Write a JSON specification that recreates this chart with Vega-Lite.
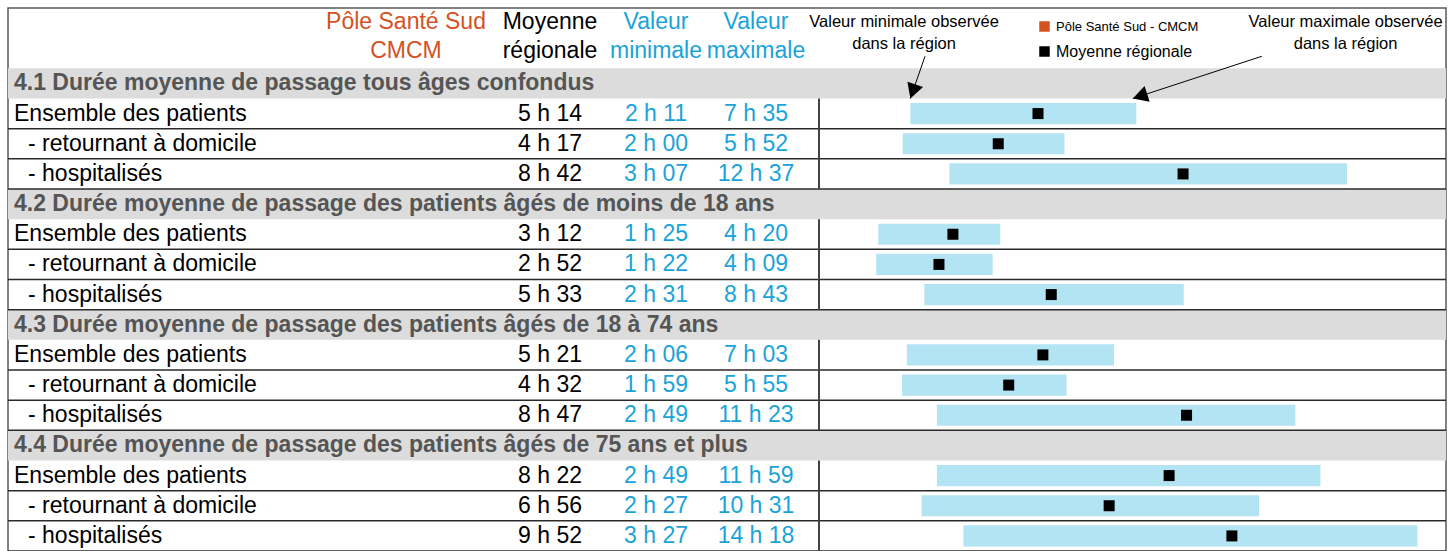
{
  "$schema": "https://vega.github.io/schema/vega-lite/v6.json",
  "width": 1438,
  "height": 546,
  "autosize": {"type": "none"},
  "padding": {"left": 8, "top": 8, "right": 10, "bottom": 0},
  "background": "white",
  "config": {
    "view": {"stroke": "#5a5a5a", "strokeWidth": 1.5},
    "axis": {"disable": true},
    "text": {"font": "Liberation Sans", "fontSize": 23}
  },
  "datasets": {
    "rows": [
      {"id": "s1", "type": "section", "level": 0, "label": "4.1 Durée moyenne de passage tous âges confondus"},
      {"id": "r1", "type": "row", "level": 0, "label": "Ensemble des patients", "moy": "5 h 14", "vmin": "2 h 11", "vmax": "7 h 35", "moyMin": 314, "minMin": 131, "maxMin": 455, "serie": "Moyenne régionale"},
      {"id": "r2", "type": "row", "level": 1, "label": "- retournant à domicile", "moy": "4 h 17", "vmin": "2 h 00", "vmax": "5 h 52", "moyMin": 257, "minMin": 120, "maxMin": 352, "serie": "Moyenne régionale"},
      {"id": "r3", "type": "row", "level": 1, "label": "- hospitalisés", "moy": "8 h 42", "vmin": "3 h 07", "vmax": "12 h 37", "moyMin": 522, "minMin": 187, "maxMin": 757, "serie": "Moyenne régionale"},
      {"id": "s2", "type": "section", "level": 0, "label": "4.2 Durée moyenne de passage des patients âgés de moins de 18 ans"},
      {"id": "r4", "type": "row", "level": 0, "label": "Ensemble des patients", "moy": "3 h 12", "vmin": "1 h 25", "vmax": "4 h 20", "moyMin": 192, "minMin": 85, "maxMin": 260, "serie": "Moyenne régionale"},
      {"id": "r5", "type": "row", "level": 1, "label": "- retournant à domicile", "moy": "2 h 52", "vmin": "1 h 22", "vmax": "4 h 09", "moyMin": 172, "minMin": 82, "maxMin": 249, "serie": "Moyenne régionale"},
      {"id": "r6", "type": "row", "level": 1, "label": "- hospitalisés", "moy": "5 h 33", "vmin": "2 h 31", "vmax": "8 h 43", "moyMin": 333, "minMin": 151, "maxMin": 523, "serie": "Moyenne régionale"},
      {"id": "s3", "type": "section", "level": 0, "label": "4.3 Durée moyenne de passage des patients âgés de 18 à 74 ans"},
      {"id": "r7", "type": "row", "level": 0, "label": "Ensemble des patients", "moy": "5 h 21", "vmin": "2 h 06", "vmax": "7 h 03", "moyMin": 321, "minMin": 126, "maxMin": 423, "serie": "Moyenne régionale"},
      {"id": "r8", "type": "row", "level": 1, "label": "- retournant à domicile", "moy": "4 h 32", "vmin": "1 h 59", "vmax": "5 h 55", "moyMin": 272, "minMin": 119, "maxMin": 355, "serie": "Moyenne régionale"},
      {"id": "r9", "type": "row", "level": 1, "label": "- hospitalisés", "moy": "8 h 47", "vmin": "2 h 49", "vmax": "11 h 23", "moyMin": 527, "minMin": 169, "maxMin": 683, "serie": "Moyenne régionale"},
      {"id": "s4", "type": "section", "level": 0, "label": "4.4 Durée moyenne de passage des patients âgés de 75 ans et plus"},
      {"id": "r10", "type": "row", "level": 0, "label": "Ensemble des patients", "moy": "8 h 22", "vmin": "2 h 49", "vmax": "11 h 59", "moyMin": 502, "minMin": 169, "maxMin": 719, "serie": "Moyenne régionale"},
      {"id": "r11", "type": "row", "level": 1, "label": "- retournant à domicile", "moy": "6 h 56", "vmin": "2 h 27", "vmax": "10 h 31", "moyMin": 416, "minMin": 147, "maxMin": 631, "serie": "Moyenne régionale"},
      {"id": "r12", "type": "row", "level": 1, "label": "- hospitalisés", "moy": "9 h 52", "vmin": "3 h 27", "vmax": "14 h 18", "moyMin": 592, "minMin": 207, "maxMin": 858, "serie": "Moyenne régionale"}
    ],
    "columns": [
      {"col": 1, "header": ["Pôle Santé Sud", "CMCM"], "serie": "Pôle Santé Sud - CMCM"},
      {"col": 2, "header": ["Moyenne", "régionale"], "serie": "Moyenne régionale"},
      {"col": 3, "header": ["Valeur", "minimale"], "serie": "Valeur observée dans la région"},
      {"col": 4, "header": ["Valeur", "maximale"], "serie": "Valeur observée dans la région"}
    ],
    "notes": [
      {"note": "min", "text": ["Valeur minimale observée", "dans la région"], "labelAt": 122, "tailAt": 152, "tipAt": 131, "tailRow": "h2", "tipRow": "r1"},
      {"note": "max", "text": ["Valeur maximale observée", "dans la région"], "labelAt": 755, "tailAt": 635, "tipAt": 450, "tailRow": "h2", "tipRow": "r1"}
    ]
  },
  "layer": [
    {
      "layer": [
        {
          "data": {"name": "rows"},
          "transform": [{"filter": "datum.type === 'section'"}],
          "mark": {"type": "rect", "color": "#dcdcdc"},
          "encoding": {
            "y": {"field": "id", "type": "nominal", "scale": {"type": "band", "domain": ["h1","h2","s1","r1","r2","r3","s2","r4","r5","r6","s3","r7","r8","r9","s4","r10","r11","r12"], "range": [0, 543], "paddingInner": 0, "paddingOuter": 0}}
          }
        },
        {
          "data": {"name": "rows"},
          "transform": [{"filter": "datum.type === 'row'"}],
          "mark": {"type": "rule", "color": "#2a2a2a", "strokeWidth": 1.5},
          "encoding": {
            "y": {"field": "id", "type": "nominal", "bandPosition": 1, "scale": {"type": "band", "domain": ["h1","h2","s1","r1","r2","r3","s2","r4","r5","r6","s3","r7","r8","r9","s4","r10","r11","r12"], "range": [0, 543], "paddingInner": 0, "paddingOuter": 0}}
          }
        },
        {
          "data": {"name": "rows"},
          "transform": [{"filter": "datum.type === 'row'"}],
          "mark": {"type": "rule", "color": "#444444", "strokeWidth": 2},
          "encoding": {
            "x": {"datum": 0, "type": "quantitative", "scale": {"domain": [0, 899], "range": [811, 1438], "zero": false, "nice": false}},
            "y": {"field": "id", "type": "nominal", "bandPosition": 0, "scale": {"type": "band", "domain": ["h1","h2","s1","r1","r2","r3","s2","r4","r5","r6","s3","r7","r8","r9","s4","r10","r11","r12"], "range": [0, 543], "paddingInner": 0, "paddingOuter": 0}},
            "y2": {"field": "id", "bandPosition": 1}
          }
        },
        {
          "data": {"name": "rows"},
          "transform": [{"filter": "datum.type === 'row'"}],
          "mark": {"type": "bar", "color": "#b3e4f4", "height": {"band": 0.7}},
          "encoding": {
            "x": {"field": "minMin", "type": "quantitative", "scale": {"domain": [0, 899], "range": [811, 1438], "zero": false, "nice": false}},
            "x2": {"field": "maxMin"},
            "y": {"field": "id", "type": "nominal", "scale": {"type": "band", "domain": ["h1","h2","s1","r1","r2","r3","s2","r4","r5","r6","s3","r7","r8","r9","s4","r10","r11","r12"], "range": [0, 543], "paddingInner": 0, "paddingOuter": 0}}
          }
        },
        {
          "data": {"name": "rows"},
          "transform": [{"filter": "datum.type === 'row'"}],
          "mark": {"type": "square", "size": 121, "opacity": 1, "filled": true},
          "encoding": {
            "x": {"field": "moyMin", "type": "quantitative", "scale": {"domain": [0, 899], "range": [811, 1438], "zero": false, "nice": false}},
            "y": {"field": "id", "type": "nominal", "scale": {"type": "band", "domain": ["h1","h2","s1","r1","r2","r3","s2","r4","r5","r6","s3","r7","r8","r9","s4","r10","r11","r12"], "range": [0, 543], "paddingInner": 0, "paddingOuter": 0}},
            "color": {
              "field": "serie", "type": "nominal",
              "scale": {"domain": ["Pôle Santé Sud - CMCM", "Moyenne régionale", "Valeur observée dans la région"], "range": ["#d4521f", "#000000", "#1aa3d9"]},
              "legend": {"orient": "none", "legendX": 1030, "legendY": 12, "title": null, "values": ["Pôle Santé Sud - CMCM", "Moyenne régionale"], "symbolType": "square", "symbolSize": 110, "symbolStrokeWidth": 0, "symbolOpacity": 1, "labelFontSize": 13, "labelFont": "Liberation Sans", "labelColor": "#000000", "rowPadding": 9, "labelOffset": 5,
                "encode": {"labels": {"update": {"fontSize": {"signal": "datum.label === 'Moyenne régionale' ? 16 : 13"}}}}}
            }
          }
        },
        {
          "data": {"name": "notes"},
          "mark": {"type": "rule", "color": "#000000", "strokeWidth": 1},
          "encoding": {
            "x": {"field": "tailAt", "type": "quantitative", "scale": {"domain": [0, 899], "range": [811, 1438], "zero": false, "nice": false}},
            "x2": {"field": "tipAt"},
            "y": {"field": "tailRow", "type": "nominal", "bandPosition": 0.6, "scale": {"type": "band", "domain": ["h1","h2","s1","r1","r2","r3","s2","r4","r5","r6","s3","r7","r8","r9","s4","r10","r11","r12"], "range": [0, 543], "paddingInner": 0, "paddingOuter": 0}},
            "y2": {"field": "tipRow", "bandPosition": 0}
          }
        },
        {
          "data": {"name": "notes"},
          "transform": [{"filter": "datum.note === 'min'"}],
          "mark": {"type": "point", "shape": "M0,0L-0.55,-1L0.55,-1Z", "size": 900, "filled": true, "color": "#000000", "opacity": 1, "angle": 19},
          "encoding": {
            "x": {"field": "tipAt", "type": "quantitative", "scale": {"domain": [0, 899], "range": [811, 1438], "zero": false, "nice": false}},
            "y": {"field": "tipRow", "type": "nominal", "bandPosition": 0, "scale": {"type": "band", "domain": ["h1","h2","s1","r1","r2","r3","s2","r4","r5","r6","s3","r7","r8","r9","s4","r10","r11","r12"], "range": [0, 543], "paddingInner": 0, "paddingOuter": 0}}
          }
        },
        {
          "data": {"name": "notes"},
          "transform": [{"filter": "datum.note === 'max'"}],
          "mark": {"type": "point", "shape": "M0,0L-0.55,-1L0.55,-1Z", "size": 900, "filled": true, "color": "#000000", "opacity": 1, "angle": 72},
          "encoding": {
            "x": {"field": "tipAt", "type": "quantitative", "scale": {"domain": [0, 899], "range": [811, 1438], "zero": false, "nice": false}},
            "y": {"field": "tipRow", "type": "nominal", "bandPosition": 0, "scale": {"type": "band", "domain": ["h1","h2","s1","r1","r2","r3","s2","r4","r5","r6","s3","r7","r8","r9","s4","r10","r11","r12"], "range": [0, 543], "paddingInner": 0, "paddingOuter": 0}}
          }
        },
        {
          "data": {"name": "notes"},
          "mark": {"type": "text", "fontSize": 16.5, "lineHeight": 22, "align": "center", "baseline": "middle", "color": "#000000"},
          "encoding": {
            "x": {"field": "labelAt", "type": "quantitative", "scale": {"domain": [0, 899], "range": [811, 1438], "zero": false, "nice": false}},
            "y": {"datum": "h1", "type": "nominal", "bandPosition": 0.47, "scale": {"type": "band", "domain": ["h1","h2","s1","r1","r2","r3","s2","r4","r5","r6","s3","r7","r8","r9","s4","r10","r11","r12"], "range": [0, 543], "paddingInner": 0, "paddingOuter": 0}},
            "text": {"field": "text"}
          }
        }
      ]
    },
    {
      "layer": [
        {
          "data": {"name": "rows"},
          "transform": [{"filter": "datum.type === 'row' && datum.level === 0"}],
          "mark": {"type": "text", "align": "left", "baseline": "middle", "color": "#000000"},
          "encoding": {
            "x": {"datum": 0, "type": "quantitative", "scale": {"domain": [0, 1, 2, 3, 4], "range": [6, 398, 542, 648, 748], "zero": false, "nice": false}},
            "y": {"field": "id", "type": "nominal", "scale": {"type": "band", "domain": ["h1","h2","s1","r1","r2","r3","s2","r4","r5","r6","s3","r7","r8","r9","s4","r10","r11","r12"], "range": [0, 543], "paddingInner": 0, "paddingOuter": 0}},
            "text": {"field": "label"}
          }
        },
        {
          "data": {"name": "rows"},
          "transform": [{"filter": "datum.type === 'row' && datum.level === 1"}],
          "mark": {"type": "text", "align": "left", "baseline": "middle", "color": "#000000", "dx": 14},
          "encoding": {
            "x": {"datum": 0, "type": "quantitative", "scale": {"domain": [0, 1, 2, 3, 4], "range": [6, 398, 542, 648, 748], "zero": false, "nice": false}},
            "y": {"field": "id", "type": "nominal", "scale": {"type": "band", "domain": ["h1","h2","s1","r1","r2","r3","s2","r4","r5","r6","s3","r7","r8","r9","s4","r10","r11","r12"], "range": [0, 543], "paddingInner": 0, "paddingOuter": 0}},
            "text": {"field": "label"}
          }
        },
        {
          "data": {"name": "rows"},
          "transform": [{"filter": "datum.type === 'section'"}],
          "mark": {"type": "text", "align": "left", "baseline": "middle", "color": "#555555", "fontWeight": "bold"},
          "encoding": {
            "x": {"datum": 0, "type": "quantitative", "scale": {"domain": [0, 1, 2, 3, 4], "range": [6, 398, 542, 648, 748], "zero": false, "nice": false}},
            "y": {"field": "id", "type": "nominal", "scale": {"type": "band", "domain": ["h1","h2","s1","r1","r2","r3","s2","r4","r5","r6","s3","r7","r8","r9","s4","r10","r11","r12"], "range": [0, 543], "paddingInner": 0, "paddingOuter": 0}},
            "text": {"field": "label"}
          }
        },
        {
          "data": {"name": "rows"},
          "transform": [{"filter": "datum.type === 'row'"}],
          "mark": {"type": "text", "align": "center", "baseline": "middle", "color": "#000000"},
          "encoding": {
            "x": {"datum": 2, "type": "quantitative", "scale": {"domain": [0, 1, 2, 3, 4], "range": [6, 398, 542, 648, 748], "zero": false, "nice": false}},
            "y": {"field": "id", "type": "nominal", "scale": {"type": "band", "domain": ["h1","h2","s1","r1","r2","r3","s2","r4","r5","r6","s3","r7","r8","r9","s4","r10","r11","r12"], "range": [0, 543], "paddingInner": 0, "paddingOuter": 0}},
            "text": {"field": "moy"}
          }
        },
        {
          "data": {"name": "rows"},
          "transform": [{"filter": "datum.type === 'row'"}],
          "mark": {"type": "text", "align": "center", "baseline": "middle", "color": "#1aa3d9"},
          "encoding": {
            "x": {"datum": 3, "type": "quantitative", "scale": {"domain": [0, 1, 2, 3, 4], "range": [6, 398, 542, 648, 748], "zero": false, "nice": false}},
            "y": {"field": "id", "type": "nominal", "scale": {"type": "band", "domain": ["h1","h2","s1","r1","r2","r3","s2","r4","r5","r6","s3","r7","r8","r9","s4","r10","r11","r12"], "range": [0, 543], "paddingInner": 0, "paddingOuter": 0}},
            "text": {"field": "vmin"}
          }
        },
        {
          "data": {"name": "rows"},
          "transform": [{"filter": "datum.type === 'row'"}],
          "mark": {"type": "text", "align": "center", "baseline": "middle", "color": "#1aa3d9"},
          "encoding": {
            "x": {"datum": 4, "type": "quantitative", "scale": {"domain": [0, 1, 2, 3, 4], "range": [6, 398, 542, 648, 748], "zero": false, "nice": false}},
            "y": {"field": "id", "type": "nominal", "scale": {"type": "band", "domain": ["h1","h2","s1","r1","r2","r3","s2","r4","r5","r6","s3","r7","r8","r9","s4","r10","r11","r12"], "range": [0, 543], "paddingInner": 0, "paddingOuter": 0}},
            "text": {"field": "vmax"}
          }
        },
        {
          "data": {"name": "columns"},
          "mark": {"type": "text", "align": "center", "baseline": "middle", "lineHeight": 29},
          "encoding": {
            "x": {"field": "col", "type": "quantitative", "scale": {"domain": [0, 1, 2, 3, 4], "range": [6, 398, 542, 648, 748], "zero": false, "nice": false}},
            "y": {"datum": "h1", "type": "nominal", "bandPosition": 0.45, "scale": {"type": "band", "domain": ["h1","h2","s1","r1","r2","r3","s2","r4","r5","r6","s3","r7","r8","r9","s4","r10","r11","r12"], "range": [0, 543], "paddingInner": 0, "paddingOuter": 0}},
            "text": {"field": "header"},
            "color": {
              "field": "serie", "type": "nominal",
              "scale": {"domain": ["Pôle Santé Sud - CMCM", "Moyenne régionale", "Valeur observée dans la région"], "range": ["#d4521f", "#000000", "#1aa3d9"]},
              "legend": {"orient": "none", "legendX": 1030, "legendY": 12, "title": null, "values": ["Pôle Santé Sud - CMCM", "Moyenne régionale"], "symbolType": "square", "symbolSize": 110, "symbolStrokeWidth": 0, "symbolOpacity": 1, "labelFontSize": 13, "labelFont": "Liberation Sans", "labelColor": "#000000", "rowPadding": 9, "labelOffset": 5,
                "encode": {"labels": {"update": {"fontSize": {"signal": "datum.label === 'Moyenne régionale' ? 16 : 13"}}}}}
            }
          }
        }
      ]
    }
  ],
  "resolve": {"scale": {"x": "independent"}}
}
